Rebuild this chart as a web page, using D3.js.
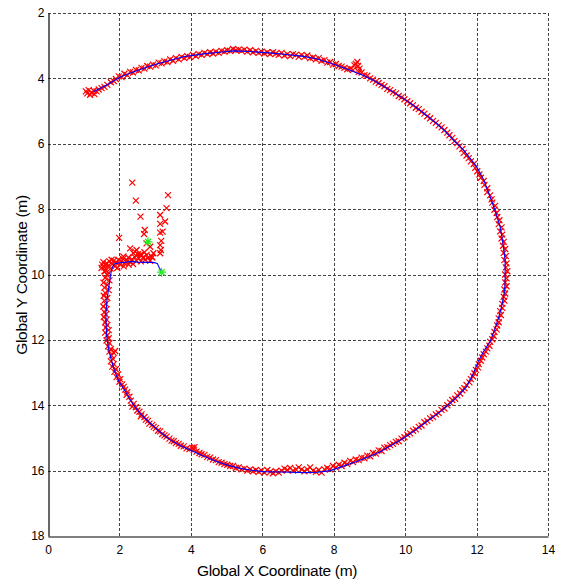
<!DOCTYPE html>
<html><head><meta charset="utf-8">
<script src="https://cdn.jsdelivr.net/npm/d3@7"></script>
<style>html,body{margin:0;padding:0;background:#fff;}svg{display:block;}</style>
</head><body>
<script>
const xTicks = [0,2,4,6,8,10,12,14];
const yTicks = [2,4,6,8,10,12,14,16,18];
const xLabel = "Global X Coordinate (m)";
const yLabel = "Global Y Coordinate (m)";

// estimated trajectory (blue)
const bluePath = [
[3.18,9.93],[3.12,9.80],[3.06,9.66],[2.95,9.63],[2.70,9.63],[2.50,9.62],[2.35,9.60],[2.20,9.62],[2.00,9.64],[1.85,9.68],[1.78,9.85],[1.74,10.1],[1.70,10.4],[1.65,10.8],[1.62,11.2],[1.63,11.6],[1.65,11.95],[1.70,12.3],[1.77,12.6],[1.86,12.95],[2.00,13.3],[2.18,13.6],[2.39,13.99],[2.6,14.28],[2.86,14.55],[3.14,14.82],[3.42,15.06],[3.7,15.23],[3.98,15.37],[4.35,15.55],[4.72,15.72],[5.05,15.84],[5.38,15.93],[5.7,15.99],[6.03,16.03],[6.4,16.04],[6.8,16.05],[7.2,16.06],[7.55,16.05],[7.9,16.0],[8.25,15.87],[8.64,15.72],[9.0,15.57],[9.3,15.42],[9.65,15.2],[9.95,15.01],[10.3,14.75],[10.7,14.42],[11.0,14.18],[11.26,13.94],[11.5,13.7],[11.72,13.43],[11.9,13.05],[12.05,12.65],[12.2,12.35],[12.38,12.05],[12.5,11.7],[12.61,11.35],[12.7,10.98],[12.77,10.6],[12.8,10.27],[12.8,9.9],[12.8,9.56],[12.74,9.05],[12.66,8.54],[12.52,8.05],[12.38,7.62],[12.2,7.1],[12.0,6.7],[11.82,6.45],[11.6,6.15],[11.35,5.89],[11.1,5.6],[10.88,5.38],[10.62,5.15],[10.32,4.9],[10.0,4.65],[9.67,4.42],[9.4,4.25],[9.11,4.06],[8.8,3.9],[8.46,3.75],[8.0,3.57],[7.52,3.40],[7.1,3.32],[6.68,3.27],[6.2,3.22],[5.66,3.18],[5.2,3.16],[4.8,3.2],[4.35,3.25],[3.79,3.34],[3.35,3.47],[2.95,3.59],[2.5,3.76],[2.02,3.96],[1.65,4.2],[1.27,4.41]
];

// scattered measurements near the start
const scatterPts = [
[2.36,7.19],[3.36,7.57],[2.46,7.74],[3.32,7.97],[2.59,8.23],[3.14,8.18],[3.28,8.38],[3.14,8.45],[2.71,8.64],[3.21,8.69],[3.14,8.72],[2.69,8.76],[1.99,8.88],[3.17,8.97],[3.14,9.10],[3.16,9.25],[3.14,9.35],[2.76,9.05],[2.86,9.15],[2.30,9.20],[2.48,9.25],[2.39,9.35],[2.58,9.40],[2.76,9.40],[2.90,9.45],[2.95,9.35],[2.11,9.45]
];
// dense cluster at the start
const clusterPts = [
[1.55,9.62],[1.60,9.70],[1.58,9.78],[1.65,9.66],[1.68,9.74],[1.72,9.60],[1.75,9.82],[1.80,9.68],[1.84,9.58],[1.88,9.75],[1.92,9.64],[1.97,9.55],[2.02,9.70],[2.06,9.60],[2.10,9.52],[2.15,9.66],[2.20,9.58],[2.25,9.48],[2.30,9.62],[2.36,9.55],[2.42,9.46],[2.48,9.58],[2.54,9.50],[2.60,9.60],[2.66,9.48],[2.72,9.55],[2.80,9.50],[2.86,9.58],[1.62,9.88],[1.70,9.95],[1.52,9.70],[1.78,9.55],[2.12,9.75],[2.38,9.68],[1.66,10.02],[2.92,9.48],[2.52,9.38],[2.44,9.30],[1.50,9.80],[1.58,9.90],[1.94,9.80],[2.26,9.70],[2.62,9.40],[2.70,9.32]
];
// measurements along the loop
const loopPts = [
[1.60,10.10],[1.72,10.18],[1.55,10.25],[1.66,10.32],[1.58,10.40],[1.70,10.48],[1.60,10.56],[1.56,10.65],[1.66,10.72],[1.58,10.80],[1.62,10.90],[1.55,10.98],[1.64,11.06],[1.58,11.15],[1.62,11.22],[1.56,11.30],[1.64,11.38],[1.60,11.46],[1.66,11.55],[1.62,11.62],[1.70,11.70],[1.60,11.78],[1.66,11.86],[1.70,11.95],[1.64,12.02],[1.72,12.10],[1.68,12.20],[1.76,12.28],[1.72,12.36],[1.88,12.34],[1.84,12.40],[1.78,12.48],[1.82,12.58],[1.76,12.66],[1.84,12.74],[1.80,12.82],[1.90,12.90],[1.86,12.98],[1.96,13.06],[1.92,13.14],[2.02,13.20],[2.00,13.28],[2.08,13.36],[2.12,13.44],[2.16,13.52],[2.22,13.60],[2.20,13.68],[2.28,13.74],
[2.32,13.86],[2.40,13.96],[2.36,14.04],[2.46,14.06],[2.50,14.16],[2.56,14.20],[2.62,14.28],[2.60,14.34],[2.70,14.36],[2.74,14.44],[2.80,14.48],[2.84,14.56],[2.92,14.60],[2.96,14.66],[3.02,14.70],[3.08,14.78],[3.14,14.80],[3.20,14.88],[3.26,14.92],[3.32,14.96],[3.40,15.02],[3.46,15.08],[3.52,15.10],[3.58,15.16],[3.66,15.18],[3.72,15.24],[3.80,15.26],[3.88,15.32],[3.96,15.34],[4.04,15.30],[4.10,15.28],[4.08,15.36],[4.16,15.42],[4.24,15.46],[4.30,15.50],[4.38,15.52],[4.46,15.58],[4.54,15.60],[4.62,15.66],[4.70,15.68],[4.78,15.74],[4.86,15.76],[4.94,15.80],[5.02,15.82],[5.10,15.86],[5.18,15.86],[5.26,15.92],[5.34,15.90],[5.42,15.96],[5.50,15.94],[5.58,16.00],[5.66,15.96],[5.74,16.02],[5.82,15.98],[5.90,16.04],[5.98,16.00],[6.06,16.06],[6.14,15.98],[6.22,16.04],[6.30,16.08],[6.38,16.02],[6.46,16.06],[6.54,16.00],[6.62,15.94],[6.70,15.98],[6.78,15.92],[6.86,16.00],[6.94,15.96],[7.02,15.90],[7.10,15.96],[7.18,16.02],[7.26,15.96],[7.34,15.90],[7.42,16.00],[7.50,16.04],[7.58,15.98],[7.66,16.06],[7.74,15.96],[7.82,15.92],[7.90,15.96],[7.98,15.86],[8.06,15.90],[8.14,15.82],[8.22,15.86],[8.30,15.76],[8.38,15.80],[8.46,15.70],[8.54,15.74],[8.62,15.66],[8.70,15.68],[8.78,15.60],[8.86,15.62],[8.94,15.54],[9.02,15.56],[9.10,15.46],[9.18,15.48],[9.26,15.38],[9.34,15.40],[9.42,15.30],[9.50,15.28],[9.58,15.22],[9.66,15.18],[9.74,15.12],[9.82,15.10],[9.90,15.02],[9.98,14.98],[10.06,14.90],[10.14,14.86],[10.22,14.78],[10.30,14.74],[10.38,14.66],[10.46,14.62],[10.54,14.52],[10.62,14.48],[10.70,14.40],[10.78,14.36],[10.86,14.28],[10.94,14.24],[11.02,14.14],[11.10,14.10],[11.18,14.00],[11.26,13.92],[11.32,13.84],[11.40,13.80],[11.46,13.70],[11.54,13.64],[11.60,13.54],[11.66,13.48],[11.72,13.38],[11.80,13.30],[11.84,13.20],[11.90,13.12],[11.94,13.02],[11.98,12.92],[12.04,12.84],[12.06,12.74],[12.12,12.64],[12.16,12.54],[12.20,12.44],[12.26,12.36],[12.30,12.26],[12.36,12.18],[12.38,12.06],[12.44,11.98],[12.48,11.88],[12.50,11.76],[12.56,11.68],[12.58,11.56],[12.62,11.46],[12.62,11.34],[12.68,11.24],[12.66,11.12],[12.72,11.02],[12.72,10.90],[12.78,10.80],[12.76,10.68],[12.80,10.58],[12.78,10.46],[12.84,10.36],[12.80,10.24],[12.84,10.12],[12.80,10.00],[12.86,9.90],[12.82,9.78],[12.84,9.66],[12.78,9.56],[12.82,9.44],[12.76,9.34],[12.80,9.22],[12.74,9.12],[12.76,9.00],[12.70,8.90],[12.72,8.78],[12.66,8.68],[12.70,8.56],[12.62,8.46],[12.64,8.34],[12.58,8.24],[12.56,8.12],[12.50,8.02],[12.52,7.90],[12.44,7.80],[12.42,7.70],[12.38,7.58],[12.30,7.48],[12.30,7.36],[12.22,7.26],[12.20,7.14],[12.12,7.04],[12.08,6.94],[12.02,6.84],[11.96,6.74],[11.92,6.62],[11.84,6.54],[11.78,6.44],[11.72,6.36],[11.64,6.28],[11.60,6.16],[11.52,6.08],[11.46,5.98],[11.38,5.92],[11.32,5.82],[11.24,5.74],[11.18,5.66],[11.10,5.58],[11.02,5.50],[10.94,5.44],[10.86,5.36],[10.78,5.30],[10.70,5.22],[10.62,5.16],[10.54,5.08],[10.46,5.02],[10.38,4.94],[10.30,4.90],[10.22,4.82],[10.14,4.76],[10.06,4.70],[9.98,4.64],[9.90,4.58],[9.82,4.54],[9.74,4.46],[9.66,4.42],[9.58,4.36],[9.50,4.32],[9.42,4.24],[9.34,4.20],[9.26,4.14],[9.18,4.10],[9.10,4.04],[9.02,4.00],[8.94,3.92],[8.86,3.90],[8.78,3.82],[8.70,3.80],[8.62,3.56],[8.68,3.62],[8.72,3.70],[8.66,3.50],[8.58,3.60],[8.54,3.74],[8.46,3.70],[8.38,3.72],[8.30,3.68],[8.22,3.64],[8.14,3.62],[8.06,3.56],[7.98,3.58],[7.90,3.50],[7.82,3.52],[7.74,3.44],[7.66,3.46],[7.58,3.38],[7.50,3.42],[7.42,3.36],[7.34,3.38],[7.26,3.30],[7.18,3.34],[7.10,3.28],[7.02,3.34],[6.94,3.28],[6.86,3.26],[6.78,3.32],[6.70,3.26],[6.62,3.30],[6.54,3.22],[6.46,3.28],[6.38,3.24],[6.30,3.20],[6.22,3.26],[6.14,3.20],[6.06,3.24],[5.98,3.18],[5.90,3.22],[5.82,3.16],[5.74,3.20],[5.66,3.14],[5.58,3.18],[5.50,3.12],[5.42,3.16],[5.34,3.12],[5.26,3.14],[5.18,3.10],[5.10,3.16],[5.02,3.14],[4.94,3.18],[4.86,3.16],[4.78,3.22],[4.70,3.18],[4.62,3.24],[4.54,3.20],[4.46,3.26],[4.38,3.22],[4.30,3.28],[4.22,3.26],[4.14,3.32],[4.06,3.28],[3.98,3.34],[3.90,3.32],[3.82,3.38],[3.74,3.34],[3.66,3.42],[3.58,3.38],[3.50,3.46],[3.42,3.42],[3.34,3.50],[3.26,3.48],[3.18,3.54],[3.10,3.52],[3.02,3.60],[2.94,3.58],[2.86,3.64],[2.78,3.62],[2.70,3.70],[2.62,3.68],[2.54,3.76],[2.46,3.74],[2.38,3.82],[2.30,3.80],[2.22,3.90],[2.14,3.86],[2.06,3.96],[1.98,3.94],[1.90,4.02],[1.84,4.08],[1.76,4.12],[1.66,4.20],[1.58,4.26],[1.50,4.30],[1.42,4.34],[1.36,4.40],[1.28,4.38],[1.22,4.44],[1.14,4.36],[1.10,4.46],[1.18,4.50],[1.30,4.48],[1.06,4.40]
];
// green start / end markers
const greenPts = [[3.18,9.93],[2.80,9.00]];

const W = 563, H = 583;
const svg = d3.select("body").append("svg").attr("width", W).attr("height", H)
  .style("font-family", "'Liberation Sans', Arial, sans-serif");

const x = d3.scaleLinear().domain([0,14]).range([48,548]);
const y = d3.scaleLinear().domain([2,18]).range([13,536]);

// grid
const grid = svg.append("g").attr("stroke", "#444").attr("stroke-width", 1).attr("stroke-dasharray", "3,2").attr("fill", "none");
grid.selectAll("line.v").data(xTicks.slice(1)).join("line").attr("class","v")
  .attr("x1", d => Math.round(x(d)) + 0.5).attr("x2", d => Math.round(x(d)) + 0.5)
  .attr("y1", y(2)).attr("y2", y(18));
grid.selectAll("line.h").data(yTicks.slice(0, -1)).join("line").attr("class","h")
  .attr("y1", d => Math.round(y(d)) + 0.5).attr("y2", d => Math.round(y(d)) + 0.5)
  .attr("x1", x(0)).attr("x2", x(14));

// axes
const xAxis = d3.axisBottom(x).tickValues(xTicks).tickSize(0).tickPadding(9).tickFormat(d3.format("d"));
const yAxis = d3.axisLeft(y).tickValues(yTicks).tickSize(0).tickPadding(4).tickFormat(d3.format("d"));
const gx = svg.append("g").attr("transform", `translate(0,${Math.round(y(18)) + 0.5})`).call(xAxis);
const gy = svg.append("g").attr("transform", `translate(${Math.round(x(0)) + 0.5},0)`).call(yAxis);
[gx, gy].forEach(g => {
  g.select(".domain").attr("stroke", "#000").attr("stroke-width", 1.2);
  g.selectAll("text").attr("font-size", 12).attr("fill", "#000").style("font-family", "'Liberation Sans', Arial, sans-serif");
});

// red measurement markers
const allRed = scatterPts.concat(clusterPts, loopPts);
const s = 3;
svg.append("g").attr("stroke", "#ff0000").attr("stroke-width", 1.2).attr("fill", "none")
  .selectAll("path").data(allRed).join("path")
  .attr("d", d => {
    const cx = x(d[0]), cy = y(d[1]);
    return `M${cx-s},${cy-s}L${cx+s},${cy+s}M${cx-s},${cy+s}L${cx+s},${cy-s}`;
  });

// blue trajectory
svg.append("path").datum(bluePath)
  .attr("d", d3.line().x(d => x(d[0])).y(d => y(d[1])))
  .attr("fill", "none").attr("stroke", "#0000ff").attr("stroke-width", 1.1);

// green markers (asterisk)
const g = 4.5;
svg.append("g").attr("stroke", "#22ee22").attr("stroke-width", 1.3).attr("fill", "none")
  .selectAll("path").data(greenPts).join("path")
  .attr("d", d => {
    const cx = x(d[0]), cy = y(d[1]);
    return `M${cx-g},${cy}L${cx+g},${cy}M${cx},${cy-g}L${cx},${cy+g}M${cx-3},${cy-3}L${cx+3},${cy+3}M${cx-3},${cy+3}L${cx+3},${cy-3}`;
  });

// axis labels
svg.append("text").attr("x", 277).attr("y", 576).attr("text-anchor", "middle")
  .attr("font-size", 15.5).attr("fill", "#000").attr("letter-spacing", "-0.3").text(xLabel);
svg.append("text").attr("transform", "translate(27,275) rotate(-90)").attr("text-anchor", "middle")
  .attr("font-size", 15.5).attr("fill", "#000").attr("letter-spacing", "-0.3").text(yLabel);
</script>
</body></html>
